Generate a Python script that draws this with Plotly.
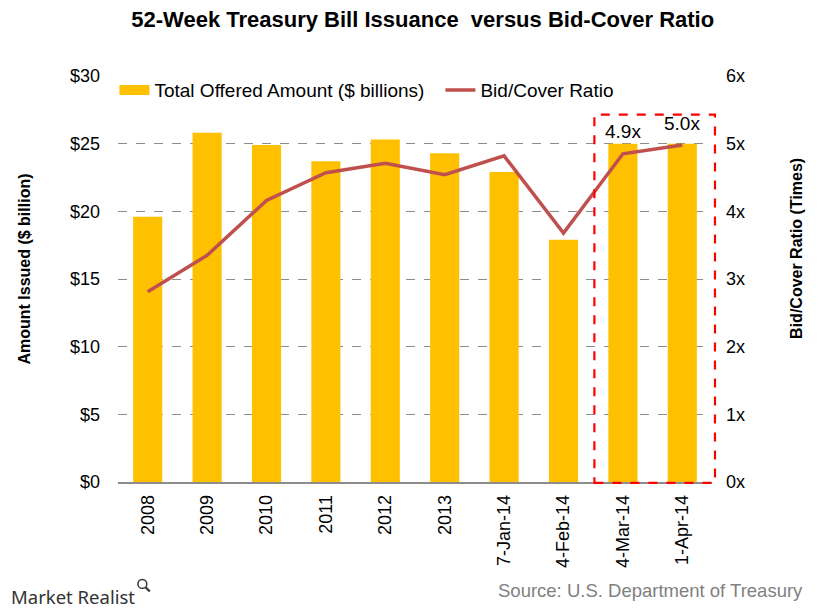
import plotly.graph_objects as go

categories = ["2008", "2009", "2010", "2011", "2012", "2013",
              "7-Jan-14", "4-Feb-14", "4-Mar-14", "1-Apr-14"]
offered_amount = [19.6, 25.8, 24.9, 23.7, 25.3, 24.3, 22.9, 17.9, 25.0, 25.0]
bid_cover = [2.81, 3.35, 4.16, 4.57, 4.71, 4.54, 4.82, 3.68, 4.85, 4.98]
label_texts = ["", "", "", "", "", "", "", "", "4.9x", "5.0x"]

left_ticks = [0, 5, 10, 15, 20, 25, 30]
right_ticks = [0, 1, 2, 3, 4, 5, 6]

# highlight box (category index span and height in $ billions)
box_cat_span = [7.52, 9.55]
box_top_value = 27.15

FONT = "Liberation Sans, Arial, sans-serif"
BAR_COLOR = "#FFC000"
LINE_COLOR = "#C0504D"

fig = go.Figure()
fig.add_trace(go.Bar(
    x=categories, y=offered_amount, name="Total Offered Amount ($ billions)",
    marker=dict(color=BAR_COLOR, line=dict(width=0)), yaxis="y",
    showlegend=False,
))
# legend-only entry to get the wide rectangular swatch
fig.add_trace(go.Scatter(
    x=[None], y=[None], mode="lines", name="Total Offered Amount ($ billions)",
    line=dict(color=BAR_COLOR, width=11), yaxis="y", hoverinfo="skip",
))
fig.add_trace(go.Scatter(
    x=categories, y=bid_cover, name="Bid/Cover Ratio", mode="lines",
    line=dict(color=LINE_COLOR, width=3.5), yaxis="y2",
))

for c, v, t in zip(categories, bid_cover, label_texts):
    if t:
        fig.add_annotation(x=c, y=v, yref="y2", text=t, showarrow=False,
                           yshift=22, font=dict(size=19, color="black", family=FONT))

n = len(categories)
fig.add_shape(type="rect", xref="paper", yref="paper",
              x0=(box_cat_span[0] + 0.5) / n, x1=(box_cat_span[1] + 0.5) / n,
              y0=-0.002, y1=box_top_value / left_ticks[-1],
              line=dict(color="#FF0000", width=2.2, dash="dash"),
              fillcolor="rgba(0,0,0,0)")

fig.update_layout(
    width=810, height=605,
    margin=dict(l=109.5, r=106, t=68, b=131),
    paper_bgcolor="white", plot_bgcolor="white",
    font=dict(family=FONT, size=18, color="black"),
    title=dict(text="<b>52-Week Treasury Bill Issuance  versus Bid-Cover Ratio</b>",
               x=0.512, xanchor="center", y=0.981, yanchor="middle",
               font=dict(size=22, family=FONT, color="black")),
    bargap=0.51,
    showlegend=True,
    legend=dict(orientation="h", x=-0.006, y=1.012, xanchor="left", yanchor="top",
                bgcolor="rgba(0,0,0,0)", font=dict(size=19, family=FONT),
                entrywidth=281, entrywidthmode="pixels", tracegroupgap=0),
    xaxis=dict(type="category", tickangle=-90, showgrid=False,
               showline=True, linecolor="#8c8c8c", linewidth=1.5,
               ticks="", ticklabelstandoff=4, tickfont=dict(size=18)),
    yaxis=dict(range=[0, 30], tickvals=left_ticks,
               ticktext=["$" + str(v) for v in left_ticks],
               showgrid=True, gridcolor="#8c8c8c", griddash="dash", gridwidth=1,
               zeroline=False, showline=False, ticks="", ticklabelstandoff=17,
               tickfont=dict(size=18)),
    yaxis2=dict(range=[0, 6], tickvals=right_ticks,
                ticktext=[str(v) + "x" for v in right_ticks],
                overlaying="y", side="right", showgrid=False, zeroline=False,
                showline=False, ticks="", ticklabelstandoff=13,
                tickfont=dict(size=18)),
)

# axis titles
fig.add_annotation(xref="paper", yref="paper", x=-0.157, y=0.525,
                   textangle=-90, showarrow=False, xanchor="center", yanchor="middle",
                   text="<b>Amount Issued ($ billion)</b>",
                   font=dict(size=16, family=FONT, color="black"))
fig.add_annotation(xref="paper", yref="paper", x=1.141, y=0.576,
                   textangle=-90, showarrow=False, xanchor="center", yanchor="middle",
                   text="<b>Bid/Cover Ratio (Times)</b>",
                   font=dict(size=16, family=FONT, color="black"))

fig.add_annotation(xref="paper", yref="paper", x=1.157, y=-0.268,
                   xanchor="right", yanchor="middle", showarrow=False,
                   text="Source: U.S. Department of Treasury",
                   font=dict(size=18.5, color="#7f7f7f", family=FONT))
fig.add_annotation(xref="paper", yref="paper", x=-0.184, y=-0.281,
                   xanchor="left", yanchor="middle", showarrow=False,
                   text="Market Realist",
                   font=dict(size=18.5, color="#333333", family="Noto Sans, sans-serif"))
# small magnifier icon of the logo
fig.add_shape(type="circle", xref="paper", yref="paper",
              x0=0.0335, x1=0.0485, y0=-0.262, y1=-0.240,
              line=dict(color="#333333", width=1.5))
fig.add_shape(type="line", xref="paper", yref="paper",
              x0=0.0465, x1=0.0535, y0=-0.259, y1=-0.270,
              line=dict(color="#333333", width=2.2))

fig.write_html("out.html")
